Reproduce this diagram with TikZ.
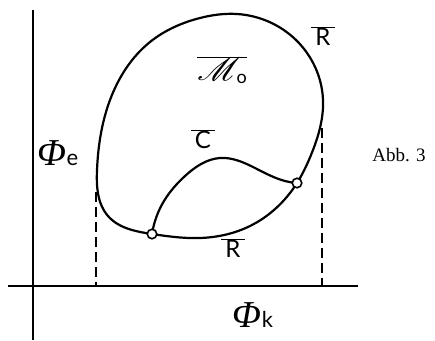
\documentclass[tikz,border=0pt]{standalone}
\usepackage{fontspec}
\setmainfont{Liberation Serif}
\setsansfont{Lato}
\usepackage{mathrsfs}
\usetikzlibrary{hobby}
\newfontfamily\phifont{Liberation Serif}
\tikzset{
  axisline/.style={line width=1.8pt},
  curveline/.style={line width=2.2pt, line join=round},
  dashline/.style={line width=1.4pt, dash pattern=on 10pt off 5pt},
  junction/.style={circle, draw, line width=1.6pt, fill=white, minimum size=9.5pt, inner sep=0pt},
  lbl/.style={font=\sffamily\fontsize{24}{26}\selectfont, inner sep=0pt},
}
\newcommand{\ovl}[1]{\ensuremath{\overline{\mbox{\,#1\,}}}}
\newcommand{\bigphi}[1]{{\phifont\itshape\fontsize{38}{40}\selectfont Φ}{\sffamily\fontsize{22}{24}\selectfont #1}}
\begin{document}
\begin{tikzpicture}[x=1pt,y=-1pt]
\useasboundingbox (0,0) rectangle (435,340);
% axes
\coordinate (vtop) at (33,10);
\coordinate (vbot) at (33,340);
\coordinate (hl) at (8,286);
\coordinate (hr) at (358,286);
\draw[axisline] (vtop) -- (vbot);
\draw[axisline] (hl) -- (hr);
% junction points
\coordinate (j1) at (152,234);
\coordinate (j2) at (297,183);
% closed curve
\draw[curveline, use Hobby shortcut, closed=true]
  (237,14) .. (296,40) .. (323,100) .. (311,155) .. (j2) .. (250,226) ..
  (200,238) .. (j1) .. (108,216) .. (97,170) .. (110,100) .. (150,42) .. (200,18);
% inner curve C
\draw[curveline, use Hobby shortcut]
  (j1) .. (164,201) .. (185,176) .. (220,158) .. (255,168) .. (285,181) .. (j2);
% dashed projections
\coordinate (dl1) at (96,192);
\coordinate (dl2) at (96,286);
\coordinate (dr1) at (322,128);
\coordinate (dr2) at (322,286);
\draw[dashline] (dl1) -- (dl2);
\draw[dashline] (dr1) -- (dr2);
% junction circles
\node[junction] (J1) at (j1) {};
\node[junction] (J2) at (j2) {};
% labels
\node[lbl] (Rtop) at (323,36) {\ovl{R}};
\node[lbl] (Rbot) at (233,248) {\ovl{R}};
\node[lbl] (Clbl) at (203,139) {\ovl{C}};
\node[lbl] (Mlbl) at (222,70) {$\overline{\scalebox{1.4}[1.3]{$\mathscr{M}$}\hspace{-4pt}\raisebox{-3pt}{\mbox{\sffamily\fontsize{18}{20}\selectfont o}}}$};
\node[inner sep=0pt] (Phie) at (58,153) {\bigphi{e}};
\node[inner sep=0pt] (Phik) at (253,315) {\bigphi{k}};
\node[inner sep=0pt, font=\fontsize{19}{21}\selectfont] (Abb) at (399,155) {Abb. 3};
\end{tikzpicture}
\end{document}
